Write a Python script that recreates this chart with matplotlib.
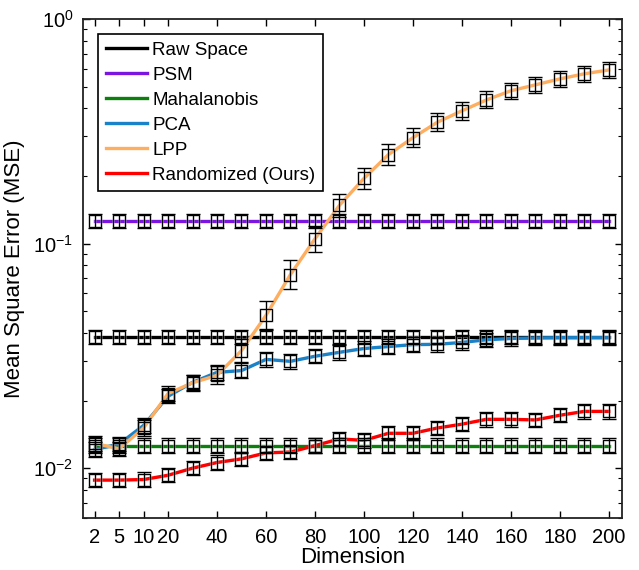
import numpy as np
import matplotlib
matplotlib.use("Agg")
import matplotlib.pyplot as plt  # noqa: E402
from matplotlib.ticker import LogLocator, NullFormatter  # noqa: E402

plt.rcParams["font.family"] = ["Liberation Sans", "DejaVu Sans"]

# x positions on the axis (first three dimensions are squeezed together)
x_pos = [-10, 0, 10, 20, 30, 40, 50, 60, 70, 80, 90, 100, 110, 120, 130, 140, 150, 160, 170, 180, 190, 200]
tick_pos = [-10, 0, 10, 20, 40, 60, 80, 100, 120, 140, 160, 180, 200]
tick_labels = ["2", "5", "10", "20", "40", "60", "80", "100", "120", "140", "160", "180", "200"]

raw_space = [0.0385, 0.0385, 0.0385, 0.0385, 0.0385, 0.0385, 0.0385, 0.0385, 0.0385, 0.0385, 0.0385,
             0.0385, 0.0385, 0.0385, 0.0385, 0.0385, 0.0385, 0.0385, 0.0385, 0.0385, 0.0385, 0.0385]
psm = [0.126, 0.126, 0.126, 0.126, 0.126, 0.126, 0.126, 0.126, 0.126, 0.126, 0.126,
       0.126, 0.126, 0.126, 0.126, 0.126, 0.126, 0.126, 0.126, 0.126, 0.126, 0.126]
mahalanobis = [0.0126, 0.0126, 0.0126, 0.0126, 0.0126, 0.0126, 0.0126, 0.0126, 0.0126, 0.0126, 0.0126,
               0.0126, 0.0126, 0.0126, 0.0126, 0.0126, 0.0126, 0.0126, 0.0126, 0.0126, 0.0126, 0.0126]
pca = [0.0121, 0.0128, 0.0155, 0.0209, 0.0241, 0.0267, 0.0272, 0.0305, 0.0299, 0.0315, 0.0328,
       0.0341, 0.0348, 0.0355, 0.0356, 0.0363, 0.0373, 0.0378, 0.0380, 0.0381, 0.0381, 0.0381]
lpp = [0.0129, 0.0122, 0.0151, 0.0215, 0.0240, 0.0259, 0.0334, 0.0479, 0.0728, 0.105, 0.148,
       0.195, 0.249, 0.296, 0.347, 0.390, 0.436, 0.479, 0.509, 0.541, 0.570, 0.593]
randomized = [0.00885, 0.00885, 0.0089, 0.0093, 0.0100, 0.0106, 0.0110, 0.0117, 0.0118, 0.0126, 0.0135,
              0.0133, 0.0143, 0.0143, 0.0151, 0.0157, 0.0165, 0.0165, 0.0164, 0.0172, 0.0179, 0.0179]

# error half-widths in decades (log10)
err_flat = 0.032
err_lpp = [0.032, 0.032, 0.035, 0.035, 0.035, 0.040, 0.050, 0.062, 0.066, 0.058, 0.050,
           0.045, 0.045, 0.042, 0.040, 0.040, 0.038, 0.036, 0.036, 0.035, 0.035, 0.035]

series = [
    ("Raw Space", raw_space, "#000000", err_flat),
    ("PSM", psm, "#7b16e0", err_flat),
    ("Mahalanobis", mahalanobis, "#0c800c", err_flat),
    ("PCA", pca, "#1a82c8", err_flat),
    ("LPP", lpp, "#ffad5f", err_lpp),
    ("Randomized (Ours)", randomized, "#ff0000", err_flat),
]

fig = plt.figure(figsize=(6.39, 5.70), dpi=100)
ax = fig.add_axes([0.130, 0.0912, 0.843, 0.8755])

for name, vals, col, err in series:
    v = np.asarray(vals)
    d = np.broadcast_to(np.asarray(err), v.shape)
    lo = v * (1 - 10 ** (-d))
    hi = v * (10 ** d - 1)
    ax.plot(x_pos, v, color=col, lw=2.4, label=name, zorder=2)
    # soft gray halo under the markers
    ax.errorbar(x_pos, v, yerr=[lo, hi], fmt="s", ms=8.5, mfc="none", mec="#c8c8c8", mew=2.0,
                ecolor="#c8c8c8", elinewidth=1.8, capsize=5, capthick=1.8, alpha=0.4, zorder=3)
    ax.errorbar(x_pos, v, yerr=[lo, hi], fmt="s", ms=8.5, mfc="none", mec="black", mew=0.9,
                ecolor="black", elinewidth=0.9, capsize=5, capthick=0.9, zorder=4)

ax.set_yscale("log")
ax.set_ylim(0.006, 1.0)
ax.set_xlim(-14.7, 205.3)
ax.set_xticks(tick_pos)
ax.set_xticklabels(tick_labels)
ax.yaxis.set_major_locator(LogLocator(base=10, numticks=10))
ax.yaxis.set_minor_locator(LogLocator(base=10, subs=np.arange(2, 10), numticks=10))
ax.yaxis.set_minor_formatter(NullFormatter())

ax.tick_params(axis="both", which="both", direction="in", top=True, right=True, labelsize=14.5)
ax.tick_params(axis="both", which="major", length=5, width=1.0, pad=7)
ax.tick_params(axis="y", which="minor", length=3, width=0.8)
for sp in ax.spines.values():
    sp.set_linewidth(1.3)
    sp.set_color("#222222")

ax.set_xlabel("Dimension", fontsize=16, labelpad=0)
ax.set_ylabel("Mean Square Error (MSE)", fontsize=16, labelpad=6)

leg = ax.legend(loc="upper left", fontsize=13.5, frameon=True, fancybox=False, framealpha=1,
                edgecolor="black", handlelength=2.2, handletextpad=0.3, labelspacing=0.42,
                borderaxespad=0.8, borderpad=0.4)
leg.get_frame().set_linewidth(1.2)

fig.savefig("out.png", dpi=100)
